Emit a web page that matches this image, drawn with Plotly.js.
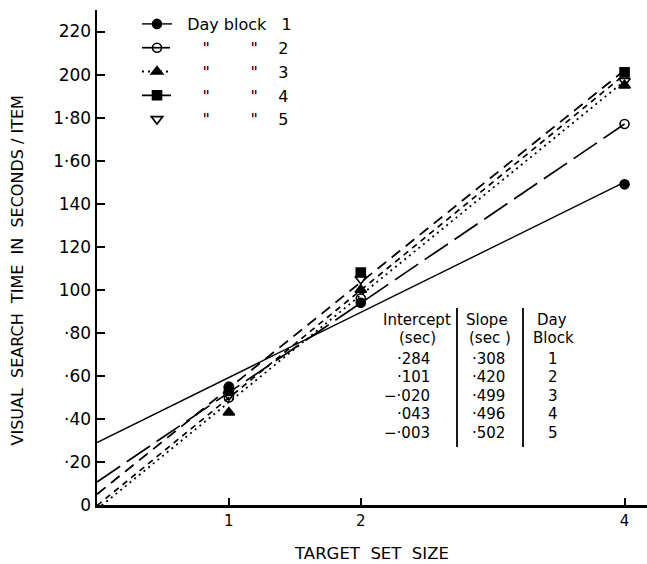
<!DOCTYPE html>
<html><head><meta charset="utf-8">
<script src="https://cdn.plot.ly/plotly-3.0.1.min.js"></script>
<style>html,body{margin:0;padding:0;background:#fff;} #chart{width:647px;height:564px;}</style>
</head><body><div id="chart"></div>
<script>
// ---- data ----
const setSizes = [1, 2, 4];
const day1 = [0.55, 0.94, 1.49];
const day2 = [0.50, 0.96, 1.77];
const day3 = [0.43, 1.00, 1.95];
const day4 = [0.53, 1.08, 2.01];
const day5 = [0.51, 1.05, 1.97];
// fitted lines: value at set size 0 and at set size 4
const fitX = [0, 4];
const fitStartY = [0.29, 0.107, -0.02, 0.05, -0.003];
const fitEndY = [1.50, 1.77, 1.97, 2.02, 2.00];
// table
const intercepts = ['·284', '·101', '−·020', '·043', '−·003'];
const slopes = ['·308', '·420', '·499', '·496', '·502'];
const dayBlocks = ['1', '2', '3', '4', '5'];
// ticks
const yTickVals = [0, 0.2, 0.4, 0.6, 0.8, 1.0, 1.2, 1.4, 1.6, 1.8, 2.0, 2.2];
const yTickText = ['0', '·20', '·40', '·60', '·80', '100', '120', '140', '1·60', '1·80', '200', '220'];
const xTickVals = [1, 2, 4];
const xTickText = ['1', '2', '4'];

// ---- styles ----
const FONT = 'DejaVu Sans';
const NB = '\u00a0';
const dayData = [day1, day2, day3, day4, day5];
const symbols = ['circle', 'circle-open', 'triangle-up', 'square', 'triangle-down-open'];
const msizes = [9, 9, 10, 9, 10];
const dashes = ['solid', '28px,8px', '2px,4px', '11px,7px', '6px,5px'];
const lwidths = [1.4, 1.7, 1.8, 1.8, 1.7];
const ditto = NB.repeat(5) + '"' + NB.repeat(8) + '"' + NB.repeat(4);
const legendNames = [NB + NB + 'Day block' + NB + NB + NB + '1', ditto + '2', ditto + '3', ditto + '4', ditto + '5'];

const traces = [];
for (let i = 0; i < 5; i++) {
  const inLegend = i < 4;
  traces.push({
    type: 'scatter', x: fitX, y: [fitStartY[i], fitEndY[i]],
    mode: inLegend ? 'lines+markers' : 'lines',
    name: legendNames[i], showlegend: inLegend,
    line: {color: '#000', width: lwidths[i], dash: dashes[i]},
    marker: {symbol: symbols[i], size: msizes[i], color: '#000', line: {color: '#000', width: 1.6}},
    selectedpoints: inLegend ? [] : undefined,
    unselected: {marker: {opacity: 0}},
    hoverinfo: 'skip', cliponaxis: true
  });
}
for (let i = 0; i < 5; i++) {
  traces.push({
    type: 'scatter', x: setSizes, y: dayData[i], mode: 'markers',
    name: legendNames[i], showlegend: i === 4,
    marker: {symbol: symbols[i], size: msizes[i], color: '#000', line: {color: '#000', width: 1.6}},
    cliponaxis: false
  });
}

const L = 97, T = 10, W = 550, H = 495;
const px = v => (v - L) / W;
const py = v => (T + H - v) / H;

const annotations = [];
const tfont = {family: FONT, size: 15, color: '#000'};
function cell(text, x, y, anchor) {
  annotations.push({text: text, xref: 'paper', yref: 'paper', x: px(x), y: py(y),
    xanchor: anchor || 'center', yanchor: 'middle', showarrow: false, font: tfont});
}
cell('Intercept', 417, 320); cell('(sec)', 417, 338);
cell('Slope', 487, 320); cell('(sec )', 490, 338);
cell('Day', 552, 320); cell('Block', 553, 338);
const rowY = [359, 377, 396, 414, 433];
for (let i = 0; i < 5; i++) {
  cell(intercepts[i], 432, rowY[i], 'right');
  cell(slopes[i], 488, rowY[i]);
  cell(dayBlocks[i], 553, rowY[i]);
}
annotations.push({
  text: 'VISUAL' + NB + NB + 'SEARCH' + NB + NB + 'TIME' + NB + NB + 'IN' + NB + NB + 'SECONDS' + NB + '/' + NB + 'ITEM',
  xref: 'paper', yref: 'paper', x: 0, y: py(271), xshift: 16.5 - L,
  xanchor: 'center', yanchor: 'middle', textangle: -90, showarrow: false,
  font: {family: FONT, size: 16, color: '#000'}
});

const shapes = [457, 523].map(x => ({
  type: 'line', xref: 'paper', yref: 'paper', x0: px(x), x1: px(x), y0: py(308), y1: py(447),
  line: {color: '#000', width: 1.8}
}));

const layout = {
  width: 647, height: 564,
  margin: {l: L, r: 0, t: T, b: 564 - T - H, pad: 0},
  paper_bgcolor: '#fff', plot_bgcolor: '#fff',
  font: {family: FONT, color: '#000'},
  showlegend: true,
  legend: {x: px(137), y: py(7), xanchor: 'left', yanchor: 'top', bgcolor: 'rgba(0,0,0,0)',
    borderwidth: 0, font: {family: FONT, size: 16, color: '#000'}, itemclick: false, itemdoubleclick: false},
  xaxis: {range: [0, 4.17], tickmode: 'array', tickvals: xTickVals, ticktext: xTickText,
    ticks: 'inside', ticklen: 7, tickwidth: 2, tickcolor: '#000',
    showline: true, linewidth: 2.5, linecolor: '#000', showgrid: false, zeroline: false,
    tickfont: {family: FONT, size: 15, color: '#000'},
    title: {text: 'TARGET' + NB + NB + 'SET' + NB + NB + 'SIZE', font: {family: FONT, size: 16.5, color: '#000'}, standoff: 19},
    fixedrange: true},
  yaxis: {range: [0, 2.30], tickmode: 'array', tickvals: yTickVals, ticktext: yTickText,
    ticks: 'inside', ticklen: 8, tickwidth: 2, tickcolor: '#000',
    showline: true, linewidth: 2.5, linecolor: '#000', showgrid: false, zeroline: false,
    tickfont: {family: FONT, size: 17, color: '#000'},
    fixedrange: true},
  annotations: annotations,
  shapes: shapes
};

Plotly.newPlot('chart', traces, layout, {staticPlot: true, displayModeBar: false});
</script>
</body></html>
